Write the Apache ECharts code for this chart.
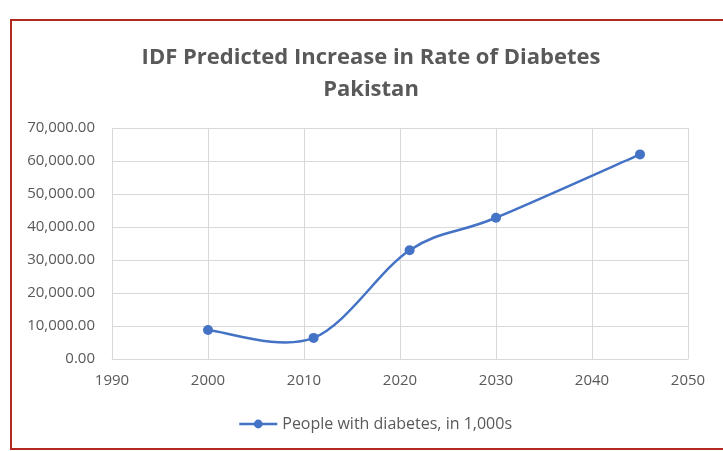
<!DOCTYPE html>
<html>
<head>
<meta charset="utf-8">
<script src="https://cdn.jsdelivr.net/npm/echarts@6/dist/echarts.min.js"></script>
<style>
html,body{margin:0;padding:0;background:#fff;}
#chart{width:723px;height:451px;}
</style>
</head>
<body>
<div id="chart"></div>
<script>
const titleLines = ["IDF Predicted Increase in Rate of Diabetes", "Pakistan"];
const seriesName = "People with diabetes, in 1,000s";
const years = [2000, 2011, 2021, 2030, 2045];
const values = [8800, 6400, 32964, 42800, 62000];
const xTicks = {min: 1990, max: 2050, interval: 10};
const yTicks = {min: 0, max: 70000, interval: 10000};

function fmt(v) {
  const s = Math.round(v).toString().replace(/\B(?=(\d{3})+(?!\d))/g, ",");
  return s + ".00";
}

const LINE_COLOR = '#4472C4';
const font = "'Open Sans', 'Liberation Sans', sans-serif";
const points = years.map((y, i) => [y, values[i]]);

// Excel-style smoothed curve (Catmull-Rom as cubic Bezier), positioned through the chart's scales
function renderCurve(params, api) {
  const i = params.dataIndex;
  if (i >= points.length - 1) return null;
  const P = points.map(p => api.coord(p));
  const p0 = P[Math.max(i - 1, 0)], p1 = P[i], p2 = P[i + 1], p3 = P[Math.min(i + 2, P.length - 1)];
  const c1 = [p1[0] + (p2[0] - p0[0]) / 6, p1[1] + (p2[1] - p0[1]) / 6];
  const c2 = [p2[0] - (p3[0] - p1[0]) / 6, p2[1] - (p3[1] - p1[1]) / 6];
  return {
    type: 'bezierCurve',
    shape: {x1: p1[0], y1: p1[1], x2: p2[0], y2: p2[1], cpx1: c1[0], cpy1: c1[1], cpx2: c2[0], cpy2: c2[1]},
    style: {fill: null, stroke: LINE_COLOR, lineWidth: 2.5, lineCap: 'round'},
    silent: true
  };
}

const chart = echarts.init(document.getElementById('chart'), null, {renderer: 'canvas'});
chart.setOption({
  animation: false,
  backgroundColor: '#ffffff',
  title: {
    text: titleLines.join("\n"),
    left: 366,
    textAlign: 'center',
    top: 37,
    textStyle: {
      fontFamily: font,
      fontSize: 22,
      fontWeight: 'bold',
      color: '#595959',
      lineHeight: 32
    }
  },
  legend: {
    top: 416,
    left: 238,
    padding: 0,
    itemWidth: 38,
    itemHeight: 11,
    itemGap: 10,
    textStyle: {fontFamily: font, fontSize: 16, color: '#595959'},
    lineStyle: {color: LINE_COLOR, width: 2.5, opacity: 1},
    data: [seriesName]
  },
  graphic: [{
    type: 'rect',
    shape: {x: 11, y: 20, width: 730, height: 429},
    style: {fill: null, stroke: '#b22a1d', lineWidth: 2},
    silent: true,
    z: 100
  }],
  grid: {left: 112, right: 35, top: 128, bottom: 92},
  xAxis: {
    type: 'value',
    min: xTicks.min, max: xTicks.max, interval: xTicks.interval,
    axisLine: {show: true, lineStyle: {color: '#d9d9d9', width: 1}},
    axisTick: {show: false},
    splitLine: {show: true, lineStyle: {color: '#d9d9d9', width: 1}},
    axisLabel: {fontFamily: font, fontSize: 15, color: '#595959', margin: 14, formatter: v => String(v)}
  },
  yAxis: {
    type: 'value',
    min: yTicks.min, max: yTicks.max, interval: yTicks.interval,
    axisLine: {show: false},
    axisTick: {show: false},
    splitLine: {show: true, lineStyle: {color: '#d9d9d9', width: 1}},
    axisLabel: {fontFamily: font, fontSize: 15, color: '#595959', margin: 17, formatter: fmt}
  },
  series: [{
    type: 'custom',
    name: 'curve',
    data: points,
    renderItem: renderCurve,
    z: 2,
    clip: false
  }, {
    name: seriesName,
    type: 'line',
    data: points,
    symbol: 'circle',
    symbolSize: 10,
    lineStyle: {color: LINE_COLOR, width: 0, opacity: 0},
    itemStyle: {color: LINE_COLOR},
    z: 3
  }]
});
</script>
</body>
</html>
